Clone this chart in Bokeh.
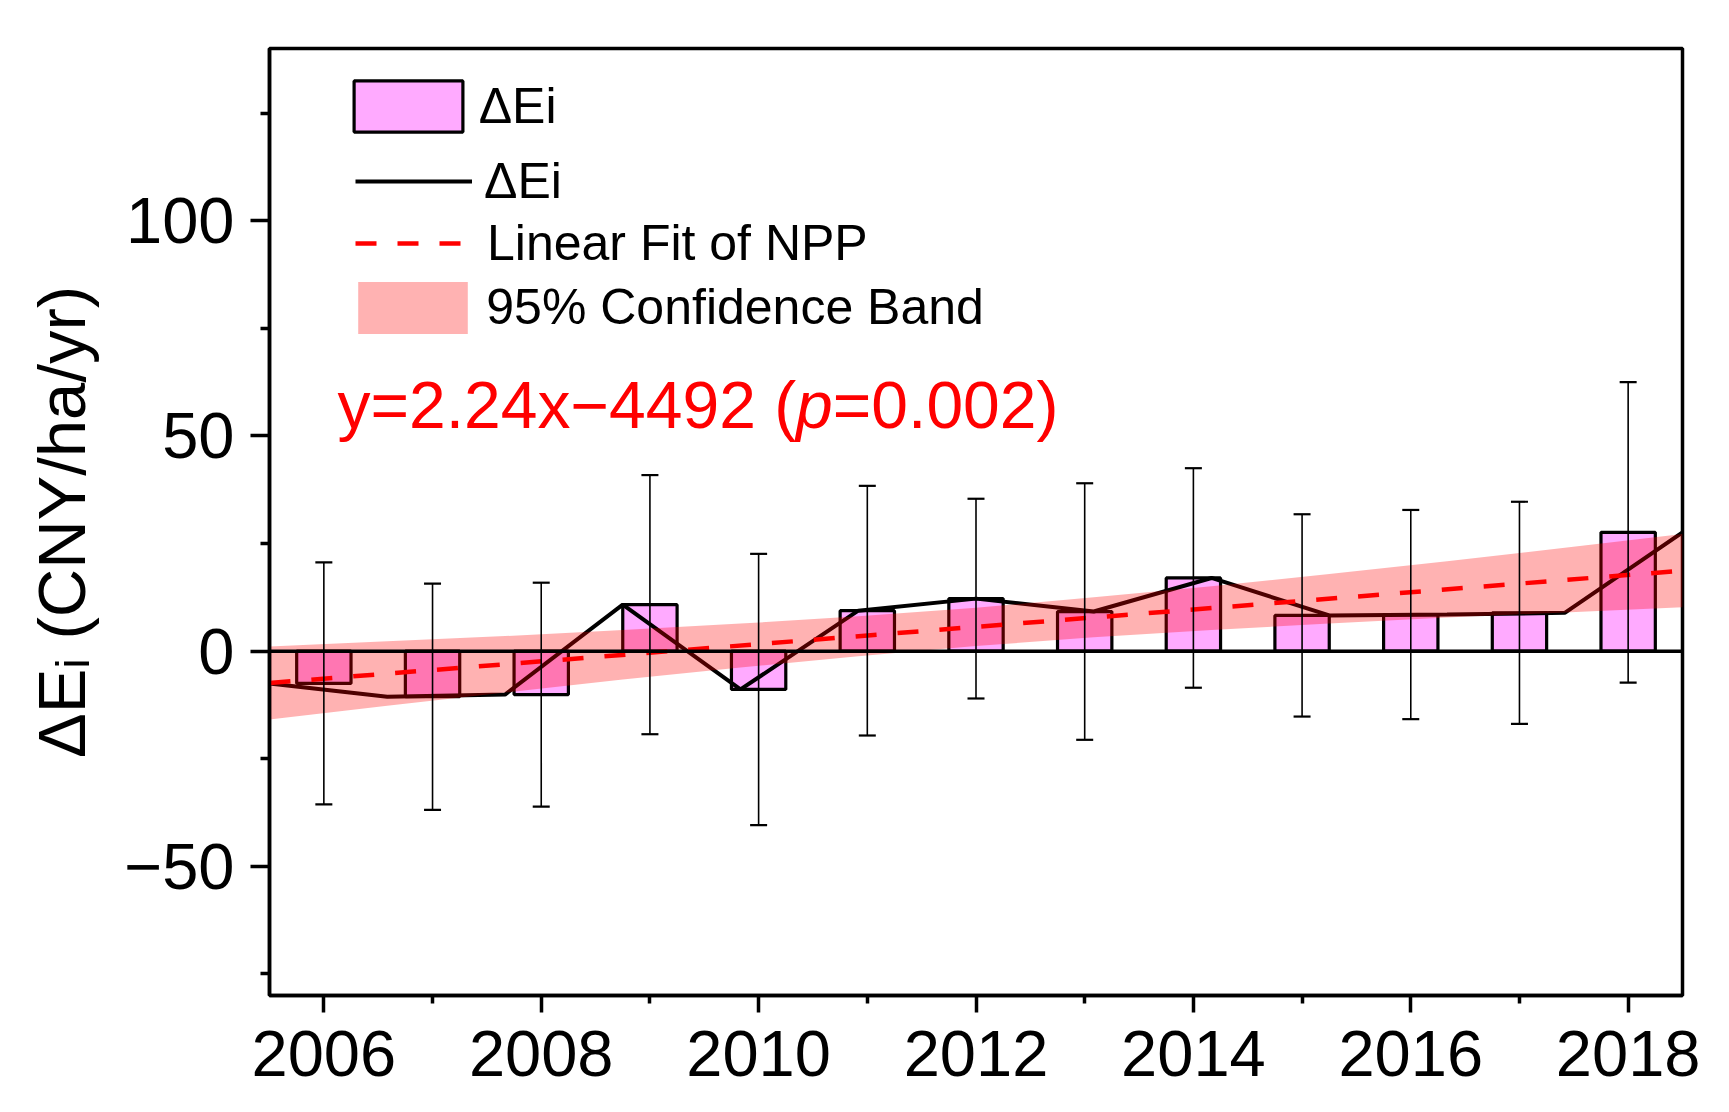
from bokeh.plotting import figure
from bokeh.models import (Range1d, FixedTicker, ColumnDataSource, Whisker, TeeHead,
                          Span, Label, Legend, LegendItem)
from bokeh.embed import file_html
from bokeh.resources import INLINE

# ---------------- data ----------------
years = [2006, 2007, 2008, 2009, 2010, 2011, 2012, 2013, 2014, 2015, 2016, 2017, 2018]
de_values = [-7.5, -10.6, -10.1, 10.8, -8.9, 9.4, 12.2, 9.2, 17.0, 8.3, 8.5, 8.9, 27.6]
de_errors = [28.1, 26.3, 26.0, 30.1, 31.5, 29.0, 23.2, 29.8, 25.5, 23.5, 24.3, 25.8, 34.9]
# the line, fit and band are drawn on an index axis (0..12) that spans the whole frame
line_index = list(range(len(de_values)))
fit_index = [0, 12]
fit_values = [-7.4, 18.7]
band_index = list(range(13))
band_upper = [1.1, 2.3, 3.5, 4.9, 6.4, 8.1, 10.1, 12.5, 15.1, 17.9, 20.9, 24.0, 27.2]
band_lower = [-15.9, -12.7, -9.6, -6.6, -3.8, -1.2, 1.2, 3.2, 4.9, 6.4, 7.8, 9.0, 10.2]
x_major = [2006, 2008, 2010, 2012, 2014, 2016, 2018]
x_minor = [2007, 2009, 2011, 2013, 2015, 2017]
y_major = [-50, 0, 50, 100]
y_minor = [-75, -25, 25, 75, 125]
y_major_labels = ["\u221250", "0", "50", "100"]
legend_labels = ["\u0394Ei", "\u0394Ei", "Linear Fit of NPP", "95% Confidence Band"]
equation_parts = ["y=2.24x\u22124492 (", "p", "=0.002)"]
y_title = "\u0394E\u1d62 (CNY/ha/yr)"

X0, X1 = 2005.5, 2018.5
Y0, Y1 = -80, 140
FONT = "Liberation Sans"

# frame geometry (canvas pixels) used to place free text
FL, FT, FW, FH = 269, 48, 1413, 947
FB = FT + FH


def dx(px):
    return X0 + (px - FL) * (X1 - X0) / FW


def dy(py):
    return Y1 - (py - FT) * (Y1 - Y0) / FH


p = figure(x_range=Range1d(X0, X1), y_range=Range1d(Y0, Y1),
           frame_width=FW, frame_height=FH,
           min_border_left=FL, min_border_top=FT,
           min_border_right=40, min_border_bottom=112,
           output_backend="svg", toolbar_location=None)
p.extra_x_ranges = {"idx": Range1d(0, 12)}
p.xgrid.visible = False
p.ygrid.visible = False
p.background_fill_color = "white"
p.border_fill_color = "white"
p.outline_line_color = "black"
p.outline_line_width = 3.5
p.outline_line_alpha = 1

for ax in (p.xaxis[0], p.yaxis[0]):
    ax.axis_line_width = 3.5
    ax.major_tick_line_width = 3.5
    ax.minor_tick_line_width = 3.5
    ax.major_tick_in = 0
    ax.minor_tick_in = 0
    ax.major_label_text_font = FONT
    ax.major_label_text_font_size = "65px"
    ax.major_label_text_color = "black"

p.xaxis.ticker = FixedTicker(ticks=x_major, minor_ticks=x_minor)
p.xaxis.major_tick_out = 17
p.xaxis.minor_tick_out = 8
p.xaxis.major_label_standoff = 18

p.yaxis.ticker = FixedTicker(ticks=y_major, minor_ticks=y_minor)
p.yaxis.major_tick_out = 19
p.yaxis.minor_tick_out = 9
p.yaxis.major_label_standoff = 16
p.yaxis.major_label_overrides = {t: s for t, s in zip(y_major, y_major_labels)}
p.yaxis.axis_label = y_title
p.yaxis.axis_label_text_font = FONT
p.yaxis.axis_label_text_font_size = "67px"
p.yaxis.axis_label_text_font_style = "normal"
p.yaxis.axis_label_text_color = "black"
p.yaxis.axis_label_standoff = 22

# ---------------- glyphs ----------------
bar_src = ColumnDataSource(dict(x=years, top=de_values))
bars_r = p.vbar(x="x", top="top", bottom=0, width=0.5, source=bar_src,
                fill_color="#FFAAFF", line_color="black", line_width=3.2)

line_src = ColumnDataSource(dict(i=line_index, v=de_values))
line_r = p.line(x="i", y="v", source=line_src, x_range_name="idx",
                line_color="black", line_width=4)

band_src = ColumnDataSource(dict(i=band_index, lo=band_lower, hi=band_upper))
band_r = p.varea(x="i", y1="lo", y2="hi", source=band_src, x_range_name="idx",
                 fill_color="red", fill_alpha=0.3)

fit_src = ColumnDataSource(dict(i=fit_index, v=fit_values))
fit_r = p.line(x="i", y="v", source=fit_src, x_range_name="idx",
               line_color="red", line_width=4.5, line_dash="21 21")

err_src = ColumnDataSource(dict(
    x=years,
    upper=[v + e for v, e in zip(de_values, de_errors)],
    lower=[v - e for v, e in zip(de_values, de_errors)]))
whisk = Whisker(source=err_src, base="x", upper="upper", lower="lower",
                line_color="black", line_width=1.6, level="annotation",
                upper_head=TeeHead(size=17, line_width=2.2, line_color="black"),
                lower_head=TeeHead(size=17, line_width=2.2, line_color="black"))
p.add_layout(whisk)

p.add_layout(Span(location=0, dimension="width", line_color="black",
                  line_width=3.5, level="annotation"))

# ---------------- legends (one per entry to match the spacing) ----------------
legend_specs = [
    # renderers, glyph_w, glyph_h, left(px), bottom(px), standoff
    ([bars_r], 136, 64, 339.7, 138.3, 3),
    ([line_r], 117, 60, 355.0, 210.7, 12),
    ([fit_r], 109, 60, 355.0, 273.3, 23),
    ([band_r], 137, 65, 344.3, 339.5, 5),
]
for (rends, gw, gh, left, bottom, so), lab in zip(legend_specs, legend_labels):
    lg = Legend(items=[LegendItem(label=lab, renderers=rends)],
                location=(left - FL, FB - bottom),
                padding=0, margin=0, spacing=0,
                border_line_alpha=0, background_fill_alpha=0,
                glyph_width=gw, glyph_height=gh, label_standoff=so,
                label_height=10, label_width=10,
                label_text_font=FONT, label_text_font_size="50px",
                label_text_color="black")
    p.add_layout(lg)

# ---------------- equation ----------------
eq_x = [337.0, 795.6, 832.3]
eq_styles = ["normal", "italic", "normal"]
eq_baseline = 430.7 - 26   # empirical baseline correction of Label
for txt, px, st in zip(equation_parts, eq_x, eq_styles):
    p.add_layout(Label(x=dx(px), y=dy(eq_baseline), text=txt, text_font=FONT,
                       text_font_size="66px", text_font_style=st,
                       text_color="red", text_align="left",
                       text_baseline="alphabetic"))

open("out.html", "w").write(file_html(p, INLINE))
